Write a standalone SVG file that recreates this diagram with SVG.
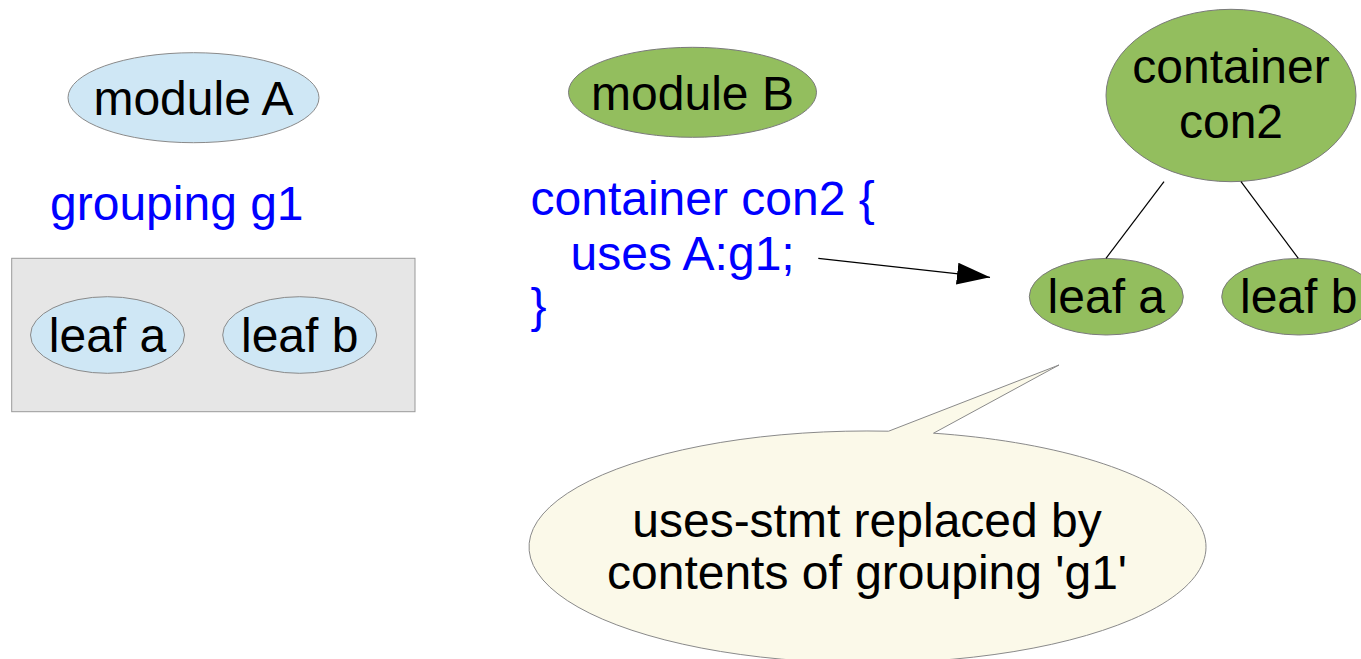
<svg xmlns="http://www.w3.org/2000/svg" width="1361" height="659" viewBox="0 0 1361 659">
<defs>
<style>
text{font-family:"Liberation Sans",Arial,sans-serif;font-size:48px;}
.lbl{fill:#000;text-anchor:middle;}
.code{fill:#0000ff;}
.blue{fill:#cfe7f5;stroke:#8a8a8a;stroke-width:1;}
.green{fill:#93be5e;stroke:#7a7a7a;stroke-width:1;}
.edge{stroke:#000;stroke-width:1.2;fill:none;}
</style>
<marker id="arrow" markerUnits="userSpaceOnUse" markerWidth="34" markerHeight="22" refX="33" refY="11" orient="auto">
<path d="M0,0 L33,11 L0,22 Z" fill="#000"/>
</marker>
</defs>
<rect width="1361" height="659" fill="#fff"/>

<g id="moduleA">
<ellipse class="blue" cx="193.5" cy="97.7" rx="125.5" ry="45"/>
<text class="lbl" x="193.5" y="115">module A</text>
</g>

<g id="grouping-label">
<text class="code" x="50" y="220">grouping g1</text>
</g>

<g id="grouping-g1">
<rect x="11.7" y="258.3" width="403.3" height="153.4" fill="#e6e6e6" stroke="#999"/>
</g>

<g id="leafA-g1">
<ellipse class="blue" cx="107.5" cy="335" rx="77" ry="38.3"/>
<text class="lbl" x="107.5" y="352">leaf a</text>
</g>

<g id="leafB-g1">
<ellipse class="blue" cx="299.7" cy="335" rx="77" ry="38.3"/>
<text class="lbl" x="299.7" y="352">leaf b</text>
</g>

<g id="moduleB">
<ellipse class="green" cx="692.5" cy="92.3" rx="124" ry="45"/>
<text class="lbl" x="692.5" y="110">module B</text>
</g>

<g id="code">
<text class="code" x="530.5" y="215">container con2 {</text>
<text class="code" x="570.5" y="270">uses A:g1;</text>
<text class="code" x="530.5" y="322">}</text>
</g>

<g id="container-con2">
<ellipse class="green" cx="1231" cy="95.5" rx="125" ry="86.2"/>
<text class="lbl" x="1231" y="83.3">container</text>
<text class="lbl" x="1231" y="138.3">con2</text>
</g>

<g id="leafA-con2">
<ellipse class="green" cx="1106.3" cy="296.7" rx="77" ry="38.3"/>
<text class="lbl" x="1106.3" y="313.3">leaf a</text>
</g>

<g id="leafB-con2">
<ellipse class="green" cx="1298.7" cy="296.7" rx="77" ry="38.3"/>
<text class="lbl" x="1298.7" y="313.3">leaf b</text>
</g>

<g id="connectors">
<line class="edge" x1="1164" y1="181.7" x2="1106" y2="258.3"/>
<line class="edge" x1="1241" y1="181.7" x2="1298.3" y2="258.3"/>
<line class="edge" x1="818.3" y1="258.3" x2="990" y2="277.3" marker-end="url(#arrow)"/>
</g>

<g id="callout">
<path d="M888.6,431.2 L1059,365 L933.5,433.2 A338.5,116 0 1 1 888.6,431.2 Z" fill="#fbf9e9" stroke="#8a8a8a" stroke-width="1"/>
<text class="lbl" x="867" y="537">uses-stmt replaced by</text>
<text class="lbl" x="867" y="588.5">contents of grouping 'g1'</text>
</g>
</svg>
